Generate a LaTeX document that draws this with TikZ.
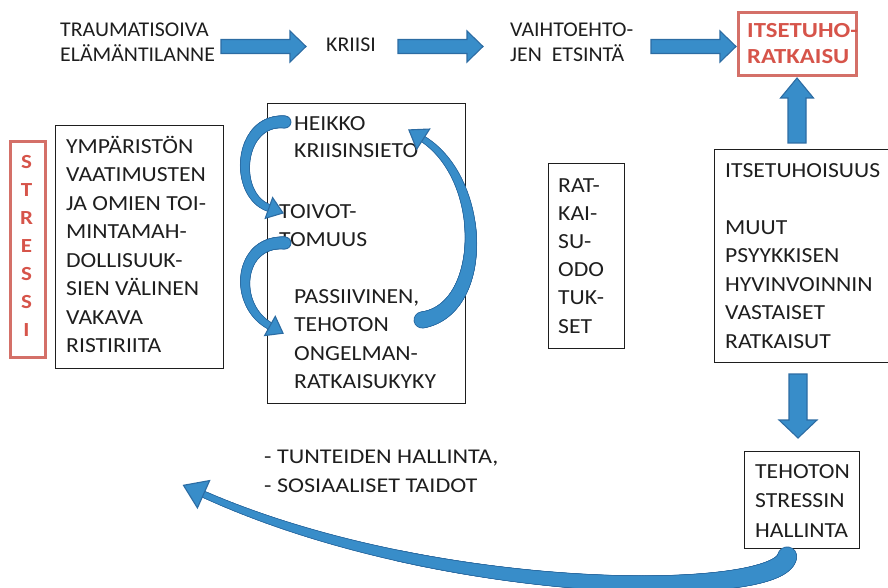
\documentclass[tikz,border=0pt]{standalone}
\usepackage{fontspec}
\setmainfont{Carlito}
\newfontfamily\boxfont[FakeStretch=1.1]{Carlito}
\newfontfamily\topfont[FakeStretch=1.04]{Carlito}
\newfontfamily\skillfont[FakeStretch=1.15]{Carlito}
\newfontfamily\alertfont[FakeStretch=1.15]{Carlito}
\usetikzlibrary{calc,decorations.markings}

\definecolor{arrowblue}{RGB}{56,141,201}
\definecolor{arrowedge}{RGB}{44,108,163}
\definecolor{alertred}{RGB}{214,84,74}
\definecolor{alertframe}{RGB}{212,112,104}
\definecolor{inkgrey}{RGB}{30,30,30}

% straight block arrows: centre line, tail, head base, tip, shaft half width, head half width
\newcommand\horizblock[6]{\filldraw[blockarrow] (#2,#1-#5) -- (#3,#1-#5) -- (#3,#1-#6) -- (#4,#1) -- (#3,#1+#6) -- (#3,#1+#5) -- (#2,#1+#5) -- cycle;}
\newcommand\vertblock[6]{\filldraw[blockarrow] (#1-#5,#2) -- (#1-#5,#3) -- (#1-#6,#3) -- (#1,#4) -- (#1+#6,#3) -- (#1+#5,#3) -- (#1+#5,#2) -- cycle;}

\tikzset{
  % multi-line texts are placed by the baseline of their last line
  txt/.style={font=\boxfont\fontsize{21.5}{28.5}\selectfont, text=inkgrey, inner sep=0pt, anchor=base west, align=left},
  toptxt/.style={txt, font=\topfont\fontsize{21}{25}\selectfont},
  redtxt/.style={txt, font=\alertfont\bfseries\fontsize{21.5}{26}\selectfont, text=alertred},
  frame/.style={draw=inkgrey, line width=1.4pt, inner sep=0pt, anchor=north west},
  redframe/.style={draw=alertframe, line width=3pt, inner sep=0pt, anchor=north west},
  blockarrow/.style={fill=arrowblue, draw=arrowedge, line width=1.1pt, line join=miter},
  % tapered curved arrow: start half width, end half width, head length, head half width
  swoosh/.style n args={4}{
    postaction={decorate, decoration={markings,
      mark=between positions 0 and 1 step 0.6pt with {
        \pgfmathsetmacro\swr{#1+(#2-#1)*\pgfkeysvalueof{/pgf/decoration/mark info/distance from start}/\pgfdecoratedpathlength+0.9}
        \fill[arrowedge] (0,0) circle[radius=\swr pt];}}},
    postaction={decorate, decoration={markings,
      mark=between positions 0 and 1 step 0.6pt with {
        \pgfmathsetmacro\swr{#1+(#2-#1)*\pgfkeysvalueof{/pgf/decoration/mark info/distance from start}/\pgfdecoratedpathlength}
        \fill[arrowblue] (0,0) circle[radius=\swr pt];}}},
    postaction={decorate, decoration={markings,
      mark=at position 0.999 with {\filldraw[blockarrow] (0,#4) -- (#3,0) -- (0,-#4) -- cycle;}}}
  }
}

\begin{document}
\begin{tikzpicture}[x=1pt,y=-1pt]
\useasboundingbox (0,0) rectangle (888,588);

% top row
\node[toptxt] (trauma) at (60,62) {TRAUMATISOIVA\\ELÄMÄNTILANNE};
\node[toptxt] (kriisi) at (326,52) {KRIISI};
\node[toptxt] (etsinta) at (510,62) {VAIHTOEHTO-\\JEN\ \ ETSINTÄ};
\node[redframe, minimum width=118pt, minimum height=63pt] (ratkbox) at (737,11) {};
\node[redtxt] (ratk) at (747,64) {ITSETUHO-\\RATKAISU};

\horizblock{46.5}{221}{290}{306}{7}{15.5}
\horizblock{46.5}{398}{467}{483}{7}{15.5}
\horizblock{46.5}{651}{720}{736}{7}{15.5}

% stress column
\node[redframe, minimum width=35pt, minimum height=216pt] (stressbox) at (9,140) {};
\node[font=\alertfont\bfseries\fontsize{20}{28}\selectfont, text=alertred, inner sep=0pt, anchor=base, align=center]
  (stressi) at (26.5,336.5) {S\\T\\R\\E\\S\\S\\I};

% conflict box
\node[frame, minimum width=168pt, minimum height=243pt] (conflictbox) at (55,125) {};
\node[txt] (conflict) at (66,352.5) {YMPÄRISTÖN\\VAATIMUSTEN\\JA OMIEN TOI-\\MINTAMAH-\\DOLLISUUK-\\SIEN VÄLINEN\\VAKAVA\\RISTIRIITA};

% crisis cycle box
\node[frame, minimum width=198pt, minimum height=300pt] (cyclebox) at (267,103) {};
\node[txt, font=\boxfont\fontsize{21.5}{27}\selectfont] (heikko) at (294,158) {HEIKKO\\KRIISINSIETO};
\node[txt] (toivot) at (279,246.5) {TOIVOT-\\TOMUUS};
\node[txt] (passiivi) at (294,388.5) {PASSIIVINEN,\\TEHOTON\\ONGELMAN-\\RATKAISUKYKY};

\path[swoosh={5.5}{3}{15}{11}] ($(heikko.base west)+(-9,-36)$) .. controls (238,118) and (232,195) .. (269,208);
\path[swoosh={5.5}{3}{15}{11}] ($(toivot.base west)+(6,-3.5)$) .. controls (238,240) and (232,305) .. (270,326);
\path[swoosh={7.5}{2.5}{17}{12}] ($(passiivi.base west)+(128,-68.5)$) .. controls (487,310) and (487,180) .. (423,139);

% expectations box
\node[frame, minimum width=76pt, minimum height=185pt] (odotusbox) at (548,163) {};
\node[txt, font=\boxfont\fontsize{21.5}{28.2}\selectfont] (odotus) at (558,333) {RAT-\\KAI-\\SU-\\ODO\\TUK-\\SET};

% right column
\node[frame, minimum width=180pt, minimum height=213pt] (harmbox) at (714,149) {};
\node[txt] (harm) at (725,348) {ITSETUHOISUUS\\[28.5pt]MUUT\\PSYYKKISEN\\HYVINVOINNIN\\VASTAISET\\RATKAISUT};
\vertblock{797}{143}{98}{78}{9}{16.5}
\vertblock{798}{374}{420}{438}{9}{19}

\node[frame, minimum width=115pt, minimum height=97pt] (copebox) at (744,451) {};
\node[txt, font=\boxfont\fontsize{21.5}{29.5}\selectfont] (cope) at (755,537) {TEHOTON\\STRESSIN\\HALLINTA};

% skills
\node[txt, font=\skillfont\fontsize{21}{29}\selectfont] (skills) at (264,492) {- TUNTEIDEN HALLINTA,\\- SOSIAALISET TAIDOT};

% feedback loop back to the stress
\coordinate (loopend) at (203,494);
\path[swoosh={9}{2.5}{22}{15}] ($(copebox.south)+(-15,7)$) .. controls (780,600) and (440,600) .. (loopend);
\end{tikzpicture}
\end{document}
